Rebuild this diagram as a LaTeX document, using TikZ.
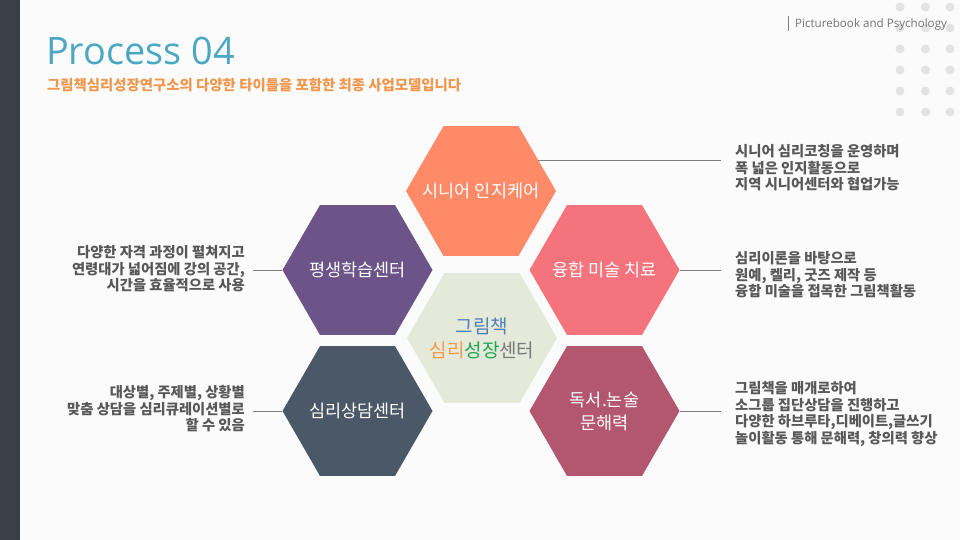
\documentclass[tikz,border=0pt]{standalone}
\usepackage{fontspec}
\setmainfont{Open Sans}
\newfontfamily\kr{Noto Sans CJK KR}
\usetikzlibrary{shapes.geometric,calc}
\definecolor{bgc}{HTML}{FBFBFB}
\definecolor{barc}{HTML}{3B4048}
\definecolor{titlec}{HTML}{4AA8C2}
\definecolor{subc}{HTML}{F0974D}
\definecolor{hexA}{HTML}{FE8A68}
\definecolor{hexB}{HTML}{6C5489}
\definecolor{hexC}{HTML}{F4737C}
\definecolor{hexD}{HTML}{E5E9D9}
\definecolor{hexE}{HTML}{4A5868}
\definecolor{hexF}{HTML}{B3566F}
\definecolor{descc}{HTML}{585858}
\definecolor{linec}{HTML}{808080}
\definecolor{dotc}{HTML}{E3E3E3}
\definecolor{cblue}{HTML}{4E7FBF}
\definecolor{corange}{HTML}{F39A4F}
\definecolor{cgreen}{HTML}{1BA750}
\definecolor{cgray}{HTML}{7A7A7A}
\tikzset{
  hexa/.style={regular polygon, regular polygon sides=6,
    minimum size=150pt, inner sep=0pt, outer sep=0pt, draw=none},
  hexlabel/.style={inner sep=0pt, text=white, align=center, font={\kr\fontsize{17.5}{23}\selectfont}},
  desc/.style={inner sep=0pt, text=descc, font={\kr\bfseries\fontsize{14.3}{16.5}\selectfont}},
  conn/.style={draw=linec, line width=0.8pt},
  dot/.style={circle, fill=dotc, minimum size=9pt, inner sep=0pt, draw=none}
}
\begin{document}
\begin{tikzpicture}[x=1pt,y=-1pt]
\useasboundingbox[fill=bgc] (0,0) rectangle (960,540);
\fill[barc] (0,0) rectangle (20,540);
% dots
\foreach \dx in {900,925.5,950}{
  \foreach \dy in {7,28,49,70,91,112}{
    \node[dot] at (\dx,\dy) {};
  }
}
% header
\draw[draw=linec, line width=0.9pt] (788,16) -- (788,31);
\node[anchor=west, inner sep=0pt, text=black!55, font=\fontsize{11.6}{13}\selectfont] (hdr) at (795,24) {Picturebook and Psychology};
% title
\node[anchor=base west, inner sep=0pt, text=titlec, font=\fontsize{37.8}{44}\selectfont] (title) at (46,65) {Process 04};
\node[anchor=west, inner sep=0pt, text=subc, font={\kr\bfseries\fontsize{14.4}{16}\selectfont}] (sub) at (47,85) {그림책심리성장연구소의 다양한 타이틀을 포함한 최종 사업모델입니다};
% hexagons
\node[hexa, fill=hexA] (h1) at (481,191) {};
\node[hexa, fill=hexB] (h2) at (357.5,270) {};
\node[hexa, fill=hexC] (h3) at (604.5,270) {};
\node[hexa, fill=hexD] (hc) at (482,338) {};
\node[hexa, fill=hexE] (h4) at (357.5,411) {};
\node[hexa, fill=hexF] (h5) at (604.5,411) {};
% hexagon labels
\node[hexlabel] (l1) at (h1.center) {시니어 인지케어};
\node[hexlabel] (l2) at (h2.center) {평생학습센터};
\node[hexlabel] (l3) at (h3.center) {융합 미술 치료};
\node[hexlabel, font={\kr\fontsize{19}{24}\selectfont}] (lc) at (hc.center) {{\color{cblue}그림책}\\{\color{corange}심리}{\color{cgreen}성장}{\color{cgray}센터}};
\node[hexlabel] (l4) at (h4.center) {심리상담센터};
\node[hexlabel] (l5) at (h5.center) {독서.논술\\문해력};
% connector end points
\coordinate (e1) at (721,160);
\coordinate (e3) at (721,270);
\coordinate (e5) at (721,411);
\coordinate (e2) at (253,270);
\coordinate (e4) at (253,411);
\draw[conn] ($(h1.center)+(57,-31)$) -- (e1);
\draw[conn] (h3.east) -- (e3);
\draw[conn] (h5.east) -- (e5);
\draw[conn] (h2.west) -- (e2);
\draw[conn] (h4.west) -- (e4);
% descriptions
\node[desc, anchor=west, align=left] (d1) at (735,168) {시니어 심리코칭을 운영하며\\폭 넓은 인지활동으로\\지역 시니어센터와 협업가능};
\node[desc, anchor=west, align=left] (d3) at (735,275) {심리이론을 바탕으로\\원예, 켈리, 굿즈 제작 등\\융합 미술을 접목한 그림책활동};
\node[desc, anchor=west, align=left] (d5) at (735,414) {그림책을 매개로하여\\소그룹 집단상담을 진행하고\\다양한 하브루타,디베이트,글쓰기\\놀이활동 통해 문해력, 창의력 향상};
\node[desc, anchor=east, align=right] (d2) at (245,269) {다양한 자격 과정이 펼쳐지고\\연령대가 넓어짐에 강의 공간,\\시간을 효율적으로 사용};
\node[desc, anchor=east, align=right] (d4) at (245,409) {대상별, 주제별, 상황별\\맞춤 상담을 심리큐레이션별로\\할 수 있음};
\end{tikzpicture}
\end{document}
